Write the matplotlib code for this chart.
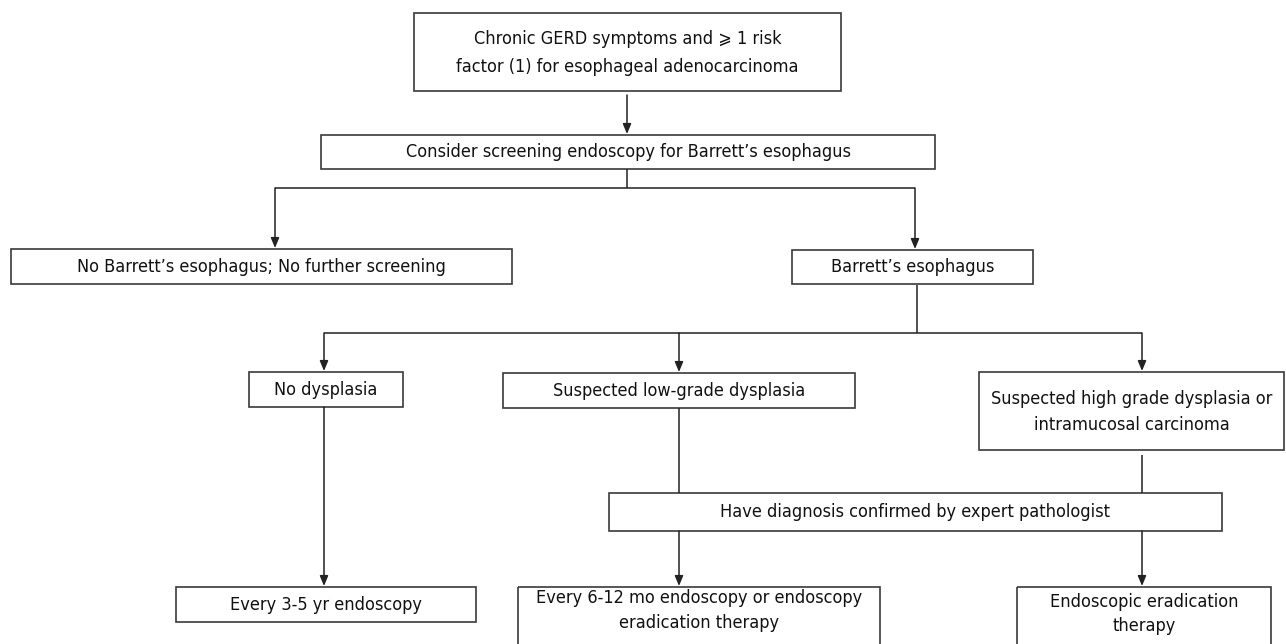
import matplotlib.pyplot as plt
from matplotlib.patches import Rectangle

# box texts
labels = [
    "Chronic GERD symptoms and \u2a7e 1 risk\nfactor (1) for esophageal adenocarcinoma",
    "Consider screening endoscopy for Barrett\u2019s esophagus",
    "No Barrett\u2019s esophagus; No further screening",
    "Barrett\u2019s esophagus",
    "No dysplasia",
    "Suspected low-grade dysplasia",
    "Suspected high grade dysplasia or\nintramucosal carcinoma",
    "Have diagnosis confirmed by expert pathologist",
    "Every 3-5 yr endoscopy",
    "Every 6-12 mo endoscopy or endoscopy\neradication therapy",
    "Endoscopic eradication\ntherapy",
]

# layout in pixels: left, top, right, bottom, text centre y, line spacing
boxes = [
    (414, 13, 841, 91, 53, 1.65),
    (321, 135, 935, 169, 152, 1.2),
    (11, 249, 512, 284, 266.5, 1.2),
    (792, 250, 1033, 284, 267, 1.2),
    (249, 372, 403, 407, 389.5, 1.2),
    (503, 373, 855, 408, 390.5, 1.2),
    (979, 372, 1284, 450, 412, 1.52),
    (609, 493, 1222, 531, 512, 1.2),
    (176, 587, 476, 622, 604.5, 1.2),
    (518, 587, 880, 646, 610.5, 1.52),
    (1017, 587, 1271, 646, 614, 1.4),
]

# connectors: (x0, y0, x1, y1, with arrow head)
links = [
    (627, 95, 627, 134, True),
    (627, 169, 627, 188, False),
    (275, 188, 915, 188, False),
    (275, 188, 275, 248, True),
    (915, 188, 915, 249, True),
    (917, 285, 917, 333, False),
    (324, 333, 1142, 333, False),
    (324, 333, 324, 371, True),
    (679, 333, 679, 372, True),
    (1142, 333, 1142, 371, True),
    (324, 407, 324, 586, True),
    (679, 408, 679, 493, False),
    (1142, 455, 1142, 493, False),
    (679, 531, 679, 586, True),
    (1142, 531, 1142, 586, True),
]

fig = plt.figure(figsize=(12.86, 6.44), dpi=100)
ax = fig.add_axes([0, 0, 1, 1])
ax.set_xlim(0, 1286)
ax.set_ylim(644, 0)
ax.axis('off')

for text, (l, t, r, b, ty, ls) in zip(labels, boxes):
    ax.add_patch(Rectangle((l, t), r - l, b - t, fill=False,
                           edgecolor='#3a3a3a', linewidth=1.2))
    ax.text((l + r) / 2, ty, text, ha='center', va='center',
            fontsize=13, color='#111111', linespacing=ls,
            family=['DejaVu Sans', 'Noto Sans CJK SC'], fontstretch='condensed')

for x0, y0, x1, y1, head in links:
    if head:
        ax.annotate('', xy=(x1, y1), xytext=(x0, y0),
                    arrowprops=dict(arrowstyle='-|>,head_length=0.6,head_width=0.25',
                                    color='#222222', lw=1.1,
                                    shrinkA=0, shrinkB=0))
    else:
        ax.plot([x0, x1], [y0, y1], color='#222222', lw=1.1,
                solid_capstyle='butt')

fig.savefig('out.png', dpi=100)
